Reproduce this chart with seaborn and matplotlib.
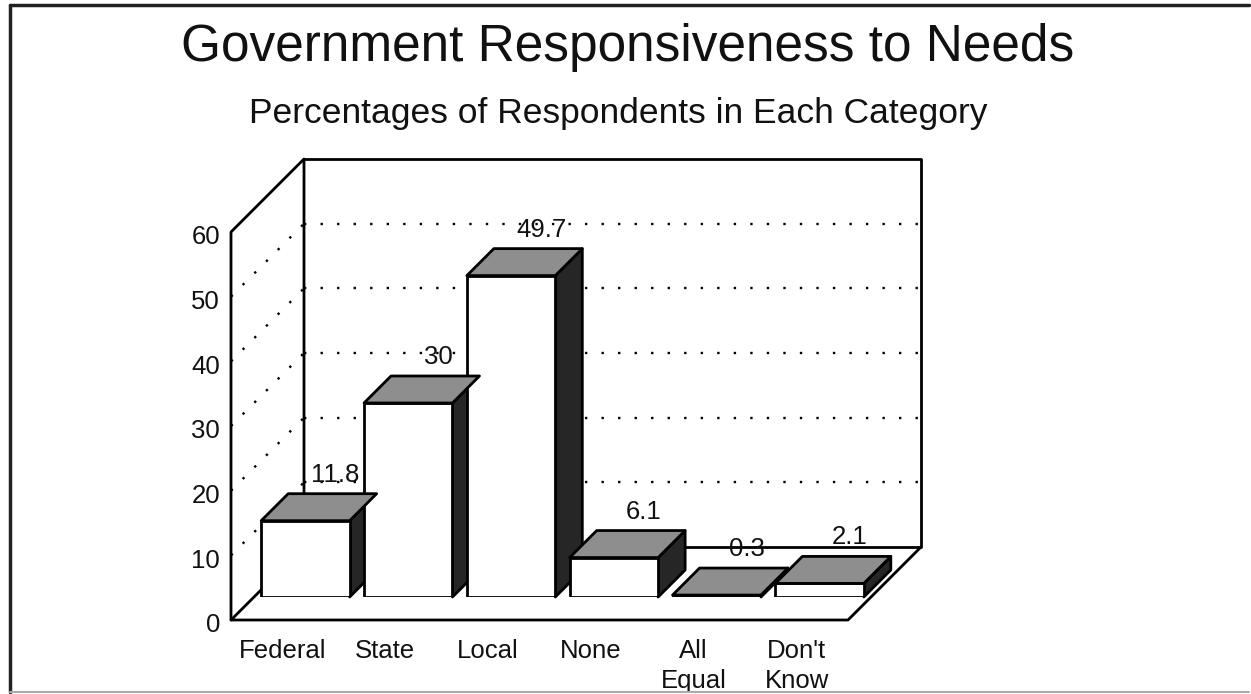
import numpy as np
import pandas as pd
import matplotlib
matplotlib.use("Agg")
import matplotlib.pyplot as plt
import seaborn as sns
from matplotlib.patches import Polygon
from matplotlib.transforms import ScaledTranslation

# ---------------- data ----------------
categories = ["Federal", "State", "Local", "None", "All\nEqual", "Don't\nKnow"]
values = [11.8, 30, 49.7, 6.1, 0.3, 2.1]
value_labels = ["11.8", "30", "49.7", "6.1", "0.3", "2.1"]
yticks = [0, 10, 20, 30, 40, 50, 60]
title = "Government Responsiveness to Needs"
subtitle = "Percentages of Respondents in Each Category"

sns.set_theme(style="white")
plt.rcParams["font.family"] = ["Liberation Sans", "DejaVu Sans"]

W, H, DPI = 1251, 694, 100
fig = plt.figure(figsize=(W / DPI, H / DPI), dpi=DPI)
fig.patch.set_facecolor("white")

# axes = plane of the bar fronts (pixels: x 254..871, y 597..209 from top)
ax_l, ax_r, ax_b, ax_t = 254, 871, 597, 209
ax = fig.add_axes([ax_l / W, (H - ax_b) / H, (ax_r - ax_l) / W, (ax_b - ax_t) / H])
ax.set_facecolor("none")

df = pd.DataFrame({"cat": categories, "val": values})
sns.barplot(data=df, x="cat", y="val", color="white", edgecolor="black",
            linewidth=2, width=0.86, saturation=1, ax=ax, zorder=5)
ax.set_xlim(-0.5, len(categories) - 0.5)
ax.set_ylim(0, 60)
for s in ax.spines.values():
    s.set_visible(False)
ax.set_xlabel("")
ax.set_ylabel("")

FRONT = -23  # pixel depth offset of front plane
BACK = 50    # pixel depth offset of back plane
BAR_D = 27   # bar depth in pixels


def P(x, y, d=0):
    """data point shifted by oblique depth d (pixels) -> data coords"""
    px = ax.transData.transform((x, y)) + np.array([d, d])
    return ax.transData.inverted().transform(px)


def line(pts, **kw):
    arr = np.array(pts)
    ax.plot(arr[:, 0], arr[:, 1], clip_on=False, **kw)


xl, xr = -0.5, len(categories) - 0.5
solid = dict(color="black", lw=2, solid_capstyle="round", zorder=2)
dot = dict(color="black", lw=1.7, linestyle=(0, (1, 6.0)), zorder=1)

# dotted gridlines (back wall + left wall)
for v in yticks[1:-1]:
    line([P(xl, v, BACK), P(xr, v, BACK)], **dot)
    line([P(xl, v, FRONT), P(xl, v, BACK)], **dot)

# left wall
line([P(xl, 0, FRONT), P(xl, 60, FRONT), P(xl, 60, BACK), P(xl, 0, BACK)], **solid)
# back wall
line([P(xl, 60, BACK), P(xr, 60, BACK), P(xr, 0, BACK), P(xl, 0, BACK)], **solid)
# floor
line([P(xl, 0, BACK), P(xl, 0, FRONT), P(xr, 0, FRONT), P(xr, 0, BACK)], **solid)

# 3D bar tops and sides
for rect, lab in zip(ax.patches, value_labels):
    x0 = rect.get_x()
    x1 = x0 + rect.get_width()
    h = rect.get_height()
    top = [P(x0, h), P(x1, h), P(x1, h, BAR_D), P(x0, h, BAR_D)]
    side = [P(x1, 0), P(x1, h), P(x1, h, BAR_D), P(x1, 0, BAR_D)]
    ax.add_patch(Polygon(side, closed=True, facecolor="#262626", edgecolor="black",
                         lw=2, joinstyle="round", zorder=4, clip_on=False))
    ax.add_patch(Polygon(top, closed=True, facecolor="#8e8e8e", edgecolor="black",
                         lw=2, joinstyle="round", zorder=6, clip_on=False))
    cx = x0 + rect.get_width() / 2
    ax.text(cx, h, lab, fontsize=18.5, ha="center", va="center", color="#111111",
            transform=ax.transData + ScaledTranslation(30 / DPI, 46 / DPI, fig.dpi_scale_trans),
            zorder=7)

# ticks
ax.set_yticks(yticks)
ax.set_yticklabels([str(t) for t in yticks], fontsize=18.5, color="#111111")
ax.tick_params(axis="y", length=0, pad=8)
ax.tick_params(axis="x", length=0, pad=14)
ax.set_xticks(range(len(categories)))
ax.set_xticklabels(categories, fontsize=18.5, color="#111111", linespacing=1.3)
shift_y = ScaledTranslation(FRONT / DPI, (FRONT - 3) / DPI, fig.dpi_scale_trans)
for t in ax.get_yticklabels():
    t.set_transform(t.get_transform() + shift_y)
shift_x = ScaledTranslation(FRONT / DPI, FRONT / DPI, fig.dpi_scale_trans)
for t in ax.get_xticklabels():
    t.set_transform(t.get_transform() + shift_x)
    t.set_multialignment("center")

# titles
fig.text(628 / W, 1 - 47 / H, title, fontsize=37, ha="center", va="center", color="#111111")
fig.text(618 / W, 1 - 114 / H, subtitle, fontsize=25.5, ha="center", va="center", color="#111111")

# outer frame
fig.add_artist(plt.Line2D([10 / W, 10 / W], [1 - 5 / H, 1 - 692 / H], transform=fig.transFigure,
                          color="#222222", lw=2.5))
fig.add_artist(plt.Line2D([10 / W, 1 - 2 / W], [1 - 5 / H, 1 - 5 / H], transform=fig.transFigure,
                          color="#222222", lw=2.5))
fig.add_artist(plt.Line2D([10 / W, 1 - 2 / W], [1 - 692 / H, 1 - 692 / H], transform=fig.transFigure,
                          color="#aaaaaa", lw=1.5))

fig.savefig("out.png", dpi=DPI, facecolor="white")
